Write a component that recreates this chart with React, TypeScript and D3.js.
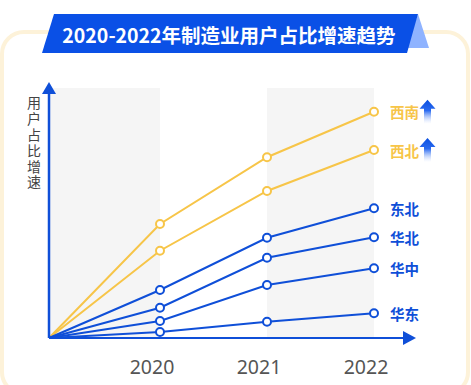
import { useEffect, useRef } from 'react';
import * as d3 from 'd3';

// Years on the x axis (2019 is the implicit origin where every line starts)
const years = [2019, 2020, 2021, 2022];
const yearLabels = ['2020', '2021', '2022'];

// Growth index per region (0 at origin)
const regions = ['西南', '西北', '东北', '华北', '华中', '华东'];
const southwest = [0, 45.6, 72.3, 90.5];
const northwest = [0, 34.9, 58.8, 75.2];
const northeast = [0, 19.2, 40.1, 51.9];
const north = [0, 12.1, 32.1, 40.3];
const central = [0, 6.8, 21.2, 27.9];
const east = [0, 2.4, 6.5, 9.9];
const highlighted = ['西南', '西北'];

const seriesValues = [southwest, northwest, northeast, north, central, east];

const BLUE = '#0f4fd8';
const YELLOW = '#f7c548';

export default function App() {
  const svgRef = useRef<SVGSVGElement>(null);
  const width = 471;
  const height = 385;

  useEffect(() => {
    if (!svgRef.current) return;
    const svg = d3.select(svgRef.current);
    svg.selectAll('*').remove();

    const defs = svg.append('defs');
    const grad = defs
      .append('linearGradient')
      .attr('id', 'upGrad')
      .attr('x1', 0)
      .attr('y1', 0)
      .attr('x2', 0)
      .attr('y2', 1);
    grad.append('stop').attr('offset', '0%').attr('stop-color', '#0a4fe0');
    grad.append('stop').attr('offset', '45%').attr('stop-color', '#2a6af0');
    grad.append('stop').attr('offset', '100%').attr('stop-color', '#ffffff').attr('stop-opacity', 0.3);

    // --- Frame ---
    svg
      .append('rect')
      .attr('x', 2)
      .attr('y', 32)
      .attr('width', 466)
      .attr('height', 362)
      .attr('rx', 22)
      .attr('fill', '#ffffff')
      .attr('stroke', '#fdf2d9')
      .attr('stroke-width', 4);

    // --- Title banner ---
    svg
      .append('path')
      .attr('d', 'M418,14 L429,48 L406,48 Z')
      .attr('fill', '#8fb3ff');
    svg
      .append('path')
      .attr('d', 'M54,14 L418,14 L407,53 L42,53 Z')
      .attr('fill', '#0a50e6');
    svg
      .append('text')
      .attr('x', 229)
      .attr('y', 34)
      .attr('text-anchor', 'middle')
      .attr('dominant-baseline', 'central')
      .attr('fill', '#ffffff')
      .attr('font-size', '19.5px')
      .attr('font-weight', 700)
      .attr('font-family', '"Noto Sans CJK SC", "Noto Sans", sans-serif')
      .text('2020-2022年制造业用户占比增速趋势');

    // --- Scales ---
    const x = d3.scaleLinear().domain([2019, 2020, 2022]).range([49, 160, 374]);
    const y = d3.scaleLinear().domain([0, 100]).range([338, 88]);

    // Alternating bands
    [[2019, 2020], [2021, 2022]].forEach(([a, b]) => {
      svg
        .append('rect')
        .attr('x', x(a))
        .attr('y', y(100))
        .attr('width', x(b) - x(a))
        .attr('height', y(0) - y(100))
        .attr('fill', '#f5f5f5');
    });

    // --- Lines ---
    const line = d3
      .line<number>()
      .x((_, i) => x(years[i]))
      .y((d) => y(d));

    regions.forEach((name, si) => {
      const vals = seriesValues[si];
      const color = highlighted.includes(name) ? YELLOW : BLUE;
      svg
        .append('path')
        .datum(vals)
        .attr('d', line)
        .attr('fill', 'none')
        .attr('stroke', color)
        .attr('stroke-width', 2);
    });

    // --- Axes ---
    svg
      .append('line')
      .attr('x1', x(2019))
      .attr('y1', y(0))
      .attr('x2', 404)
      .attr('y2', y(0))
      .attr('stroke', BLUE)
      .attr('stroke-width', 2);
    svg
      .append('path')
      .attr('d', `M403,${y(0) - 7} L416,${y(0)} L403,${y(0) + 7} Z`)
      .attr('fill', BLUE);
    svg
      .append('line')
      .attr('x1', x(2019))
      .attr('y1', y(0))
      .attr('x2', x(2019))
      .attr('y2', 92)
      .attr('stroke', BLUE)
      .attr('stroke-width', 2.5);
    svg
      .append('path')
      .attr('d', `M${x(2019) - 7},94 L${x(2019)},82 L${x(2019) + 7},94 Z`)
      .attr('fill', BLUE);

    // Points and right-hand labels
    regions.forEach((name, si) => {
      const vals = seriesValues[si];
      const color = highlighted.includes(name) ? YELLOW : BLUE;
      vals.forEach((v, i) => {
        if (i === 0) return;
        svg
          .append('circle')
          .attr('cx', x(years[i]))
          .attr('cy', y(v))
          .attr('r', 4)
          .attr('fill', '#ffffff')
          .attr('stroke', color)
          .attr('stroke-width', 2);
      });
      const last = vals[vals.length - 1];
      svg
        .append('text')
        .attr('x', 390)
        .attr('y', y(last))
        .attr('dominant-baseline', 'central')
        .attr('fill', color)
        .attr('font-size', '14.5px')
        .attr('font-weight', 600)
        .attr('font-family', '"Noto Sans CJK SC", sans-serif')
        .text(name);
      if (highlighted.includes(name)) {
        const ax = 427.5;
        const ay = y(last) - 12;
        svg
          .append('path')
          .attr(
            'd',
            `M${ax},${ay} L${ax + 8},${ay + 9} L${ax + 3.5},${ay + 9} L${ax + 3.5},${ay + 24} L${ax - 3.5},${ay + 24} L${ax - 3.5},${ay + 9} L${ax - 8},${ay + 9} Z`,
          )
          .attr('fill', 'url(#upGrad)');
      }
    });

    // X tick labels
    yearLabels.forEach((lab) => {
      svg
        .append('text')
        .attr('x', x(+lab) - 8)
        .attr('y', 366)
        .attr('text-anchor', 'middle')
        .attr('dominant-baseline', 'central')
        .attr('fill', '#555555')
        .attr('font-size', '19.5px')
        .attr('font-family', '"Noto Sans", "Open Sans", sans-serif')
        .text(lab);
    });

    // Vertical y-axis title (single text, vertical writing mode)
    svg
      .append('text')
      .attr('x', 34)
      .attr('y', 96)
      .attr('fill', '#444444')
      .attr('font-size', '14px')
      .attr('font-family', '"Noto Sans CJK SC", sans-serif')
      .attr('letter-spacing', '1.8px')
      .style('writing-mode', 'vertical-rl')
      .style('text-orientation', 'upright')
      .text('用户占比增速');
  }, []);

  return (
    <div style={{ position: 'absolute', left: 0, top: 0 }}>
      <svg ref={svgRef} width={width} height={height} style={{ display: 'block' }} />
    </div>
  );
}
